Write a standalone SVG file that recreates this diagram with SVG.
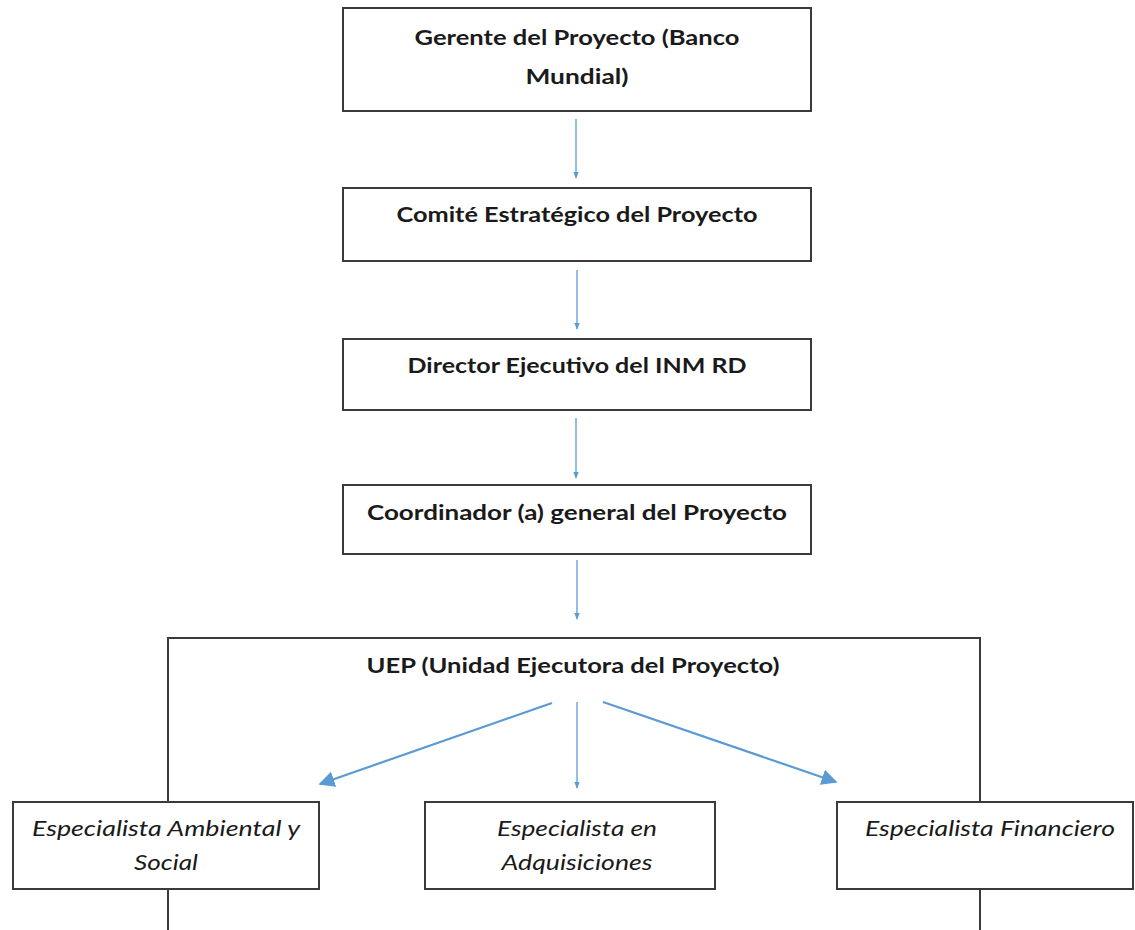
<svg xmlns="http://www.w3.org/2000/svg" width="1135" height="930" viewBox="0 0 1135 930">
<style>
.box{fill:#fff;stroke:#3a3a3a;stroke-width:2}
.frame{fill:none;stroke:#3a3a3a;stroke-width:2}
.b{font-family:Lato,"Open Sans","Liberation Sans",sans-serif;font-weight:bold;font-size:21.5px;fill:#1a1a1a;text-anchor:middle}
.i{font-family:Lato,"Open Sans","Liberation Sans",sans-serif;font-style:italic;font-size:21.5px;fill:#1a1a1a;text-anchor:middle}
.thin{stroke:#5b9bd5;stroke-width:1.3;fill:none}
.thick{stroke:#5b9bd5;stroke-width:2.2;fill:none}
</style>
<defs>
<marker id="ah" viewBox="0 0 10 10" refX="9" refY="5" markerWidth="7" markerHeight="7" markerUnits="userSpaceOnUse" orient="auto"><path d="M0,1 L10,5 L0,9 z" fill="#5b9bd5"/></marker>
<marker id="ahl" viewBox="0 0 10 10" refX="9" refY="5" markerWidth="16" markerHeight="16" markerUnits="userSpaceOnUse" orient="auto"><path d="M0,0 L10,5 L0,10 z" fill="#5b9bd5"/></marker>
</defs>
<rect width="1135" height="930" fill="#fff"/>
<g id="uep">
<path class="frame" d="M168,930 V638 H980 V930"/>
<text class="b" x="573" y="673" textLength="413" lengthAdjust="spacingAndGlyphs">UEP (Unidad Ejecutora del Proyecto)</text>
</g>
<g id="gerente">
<rect class="box" x="343" y="8" width="468" height="103"/>
<text class="b" x="577" y="45" textLength="325" lengthAdjust="spacingAndGlyphs">Gerente del Proyecto (Banco</text>
<text class="b" x="577" y="84" textLength="103" lengthAdjust="spacingAndGlyphs">Mundial)</text>
</g>
<g id="comite">
<rect class="box" x="343" y="188" width="468" height="73"/>
<text class="b" x="577" y="222" textLength="361" lengthAdjust="spacingAndGlyphs">Comité Estratégico del Proyecto</text>
</g>
<g id="director">
<rect class="box" x="343" y="339" width="468" height="71"/>
<text class="b" x="577" y="373" textLength="339" lengthAdjust="spacingAndGlyphs">Director Ejecutivo del INM RD</text>
</g>
<g id="coordinador">
<rect class="box" x="343" y="485" width="468" height="69"/>
<text class="b" x="577" y="520" textLength="420" lengthAdjust="spacingAndGlyphs">Coordinador (a) general del Proyecto</text>
</g>
<g id="esp-ambiental">
<rect class="box" x="13" y="802" width="306" height="87"/>
<text class="i" x="166" y="836" textLength="268" lengthAdjust="spacingAndGlyphs">Especialista Ambiental y</text>
<text class="i" x="166" y="870" textLength="64" lengthAdjust="spacingAndGlyphs">Social</text>
</g>
<g id="esp-adquisiciones">
<rect class="box" x="425" y="802" width="290" height="87"/>
<text class="i" x="577" y="836" textLength="160" lengthAdjust="spacingAndGlyphs">Especialista en</text>
<text class="i" x="577" y="870" textLength="151" lengthAdjust="spacingAndGlyphs">Adquisiciones</text>
</g>
<g id="esp-financiero">
<rect class="box" x="837" y="802" width="296" height="87"/>
<text class="i" x="990" y="836" textLength="250" lengthAdjust="spacingAndGlyphs">Especialista Financiero</text>
</g>
<g id="connectors">
<line class="thin" x1="576" y1="119" x2="576" y2="178" marker-end="url(#ah)"/>
<line class="thin" x1="577" y1="270" x2="577" y2="329" marker-end="url(#ah)"/>
<line class="thin" x1="576" y1="418" x2="576" y2="478" marker-end="url(#ah)"/>
<line class="thin" x1="577" y1="560" x2="577" y2="619" marker-end="url(#ah)"/>
<line class="thick" x1="552" y1="703" x2="320" y2="784" marker-end="url(#ahl)"/>
<line class="thin" x1="577" y1="702" x2="577" y2="788" marker-end="url(#ah)"/>
<line class="thick" x1="603" y1="702" x2="836" y2="782" marker-end="url(#ahl)"/>
</g>
</svg>
